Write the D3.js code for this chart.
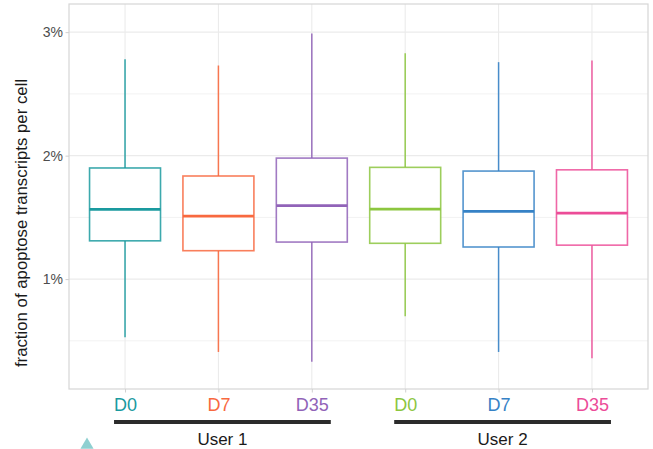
<!DOCTYPE html>
<html>
<head>
<meta charset="utf-8">
<script src="https://cdn.jsdelivr.net/npm/d3@7"></script>
<style>
  html, body { margin: 0; padding: 0; background: #fff; }
  svg { display: block; }
  text { font-family: "Liberation Sans", Arial, sans-serif; }
</style>
</head>
<body>
<svg id="chart" width="653" height="449"></svg>
<script>
// ---- data ----
const categories = ["U1_D0", "U1_D7", "U1_D35", "U2_D0", "U2_D7", "U2_D35"];
const tickLabels = ["D0", "D7", "D35", "D0", "D7", "D35"];
const colors = ["#1a9a9f", "#f8693f", "#9163b8", "#8cc63f", "#3682c6", "#ec4c98"];
const whiskerLow  = [0.53, 0.41, 0.33, 0.70, 0.41, 0.36];
const q1          = [1.31, 1.23, 1.30, 1.29, 1.26, 1.275];
const medians     = [1.565, 1.51, 1.595, 1.567, 1.548, 1.535];
const q3          = [1.90, 1.835, 1.98, 1.905, 1.875, 1.885];
const whiskerHigh = [2.78, 2.73, 2.99, 2.83, 2.757, 2.77];
const groups = [
  { label: "User 1", members: ["U1_D0", "U1_D35"] },
  { label: "User 2", members: ["U2_D0", "U2_D35"] }
];
const yTicks = [1, 2, 3];
const yMinor = [0.5, 1.5, 2.5];
const yTitle = "fraction of apoptose transcripts per cell";

// ---- layout ----
const svg = d3.select("#chart");
const panel = { left: 69, right: 648, top: 4, bottom: 389 };

const x = d3.scalePoint()
  .domain(categories)
  .range([panel.left, panel.right])
  .padding(0.6);
const step = x.step();
const boxW = step * 0.76;

const y = d3.scaleLinear()
  .domain([0.11, 3.228])
  .range([panel.bottom, panel.top]);

// gridlines
const grid = svg.append("g");
grid.selectAll("line.minor").data(yMinor).join("line")
  .attr("x1", panel.left).attr("x2", panel.right)
  .attr("y1", d => y(d)).attr("y2", d => y(d))
  .attr("stroke", "#f2f2f2").attr("stroke-width", 1);
grid.selectAll("line.major").data(yTicks).join("line")
  .attr("x1", panel.left).attr("x2", panel.right)
  .attr("y1", d => y(d)).attr("y2", d => y(d))
  .attr("stroke", "#ebebeb").attr("stroke-width", 1.1);
grid.selectAll("line.vmajor").data(categories).join("line")
  .attr("x1", d => x(d)).attr("x2", d => x(d))
  .attr("y1", panel.top).attr("y2", panel.bottom)
  .attr("stroke", "#ebebeb").attr("stroke-width", 1.1);

// boxes
const data = categories.map((c, i) => ({
  c, color: colors[i], lo: whiskerLow[i], q1: q1[i], med: medians[i], q3: q3[i], hi: whiskerHigh[i]
}));
const bx = svg.append("g").selectAll("g").data(data).join("g");
bx.append("line")
  .attr("x1", d => x(d.c)).attr("x2", d => x(d.c))
  .attr("y1", d => y(d.q3)).attr("y2", d => y(d.hi))
  .attr("stroke", d => d.color).attr("stroke-width", 1.5).attr("stroke-opacity", 0.9);
bx.append("line")
  .attr("x1", d => x(d.c)).attr("x2", d => x(d.c))
  .attr("y1", d => y(d.q1)).attr("y2", d => y(d.lo))
  .attr("stroke", d => d.color).attr("stroke-width", 1.5).attr("stroke-opacity", 0.9);
bx.append("rect")
  .attr("x", d => x(d.c) - boxW / 2).attr("width", boxW)
  .attr("y", d => y(d.q3)).attr("height", d => y(d.q1) - y(d.q3))
  .attr("fill", "#fff").attr("stroke", d => d.color)
  .attr("stroke-width", 1.6).attr("stroke-opacity", 0.85);
bx.append("line")
  .attr("x1", d => x(d.c) - boxW / 2).attr("x2", d => x(d.c) + boxW / 2)
  .attr("y1", d => y(d.med)).attr("y2", d => y(d.med))
  .attr("stroke", d => d.color).attr("stroke-width", 2.8);

// panel border
svg.append("rect")
  .attr("x", panel.left).attr("y", panel.top)
  .attr("width", panel.right - panel.left).attr("height", panel.bottom - panel.top)
  .attr("fill", "none").attr("stroke", "#d6d6d6").attr("stroke-width", 1.2);

// y axis
const yAxis = svg.append("g")
  .attr("transform", `translate(${panel.left},0)`)
  .call(d3.axisLeft(y).tickValues(yTicks).tickFormat(d => d + "%").tickSize(3.5).tickPadding(2.5));
yAxis.select(".domain").remove();
yAxis.selectAll(".tick line").attr("stroke", "#d0d0d0");
yAxis.selectAll(".tick text")
  .attr("fill", "#4d4d4d").style("font-size", "14px")
  .style("font-family", "'Liberation Sans', Arial, sans-serif");

// x axis
const xAxis = svg.append("g")
  .attr("transform", `translate(0,${panel.bottom})`)
  .call(d3.axisBottom(x).tickSize(3.5).tickPadding(6).tickFormat((d, i) => tickLabels[i]));
xAxis.select(".domain").remove();
xAxis.selectAll(".tick line").attr("stroke", "#d0d0d0");
xAxis.selectAll(".tick text")
  .attr("fill", (d, i) => colors[i]).style("font-size", "18px")
  .style("font-family", "'Liberation Sans', Arial, sans-serif");

// group bars
const gg = svg.append("g").selectAll("g").data(groups).join("g");
gg.append("line")
  .attr("x1", d => x(d.members[0]) - 11).attr("x2", d => x(d.members[1]) + 19)
  .attr("y1", 422).attr("y2", 422)
  .attr("stroke", "#2b2b2b").attr("stroke-width", 4);
gg.append("text")
  .attr("x", d => (x(d.members[0]) - 11 + x(d.members[1]) + 19) / 2)
  .attr("y", 444.5)
  .attr("text-anchor", "middle")
  .attr("fill", "#1a1a1a").style("font-size", "17px")
  .text(d => d.label);

// y title
svg.append("text")
  .attr("transform", `translate(27,223) rotate(-90)`)
  .attr("text-anchor", "middle")
  .attr("fill", "#1a1a1a").style("font-size", "16.8px")
  .text(yTitle);

// small triangle marker
svg.append("path")
  .attr("d", d3.symbol().type(d3.symbolTriangle).size(75)())
  .attr("transform", "translate(87,445)")
  .attr("fill", "#8fd0d1");
</script>
</body>
</html>
